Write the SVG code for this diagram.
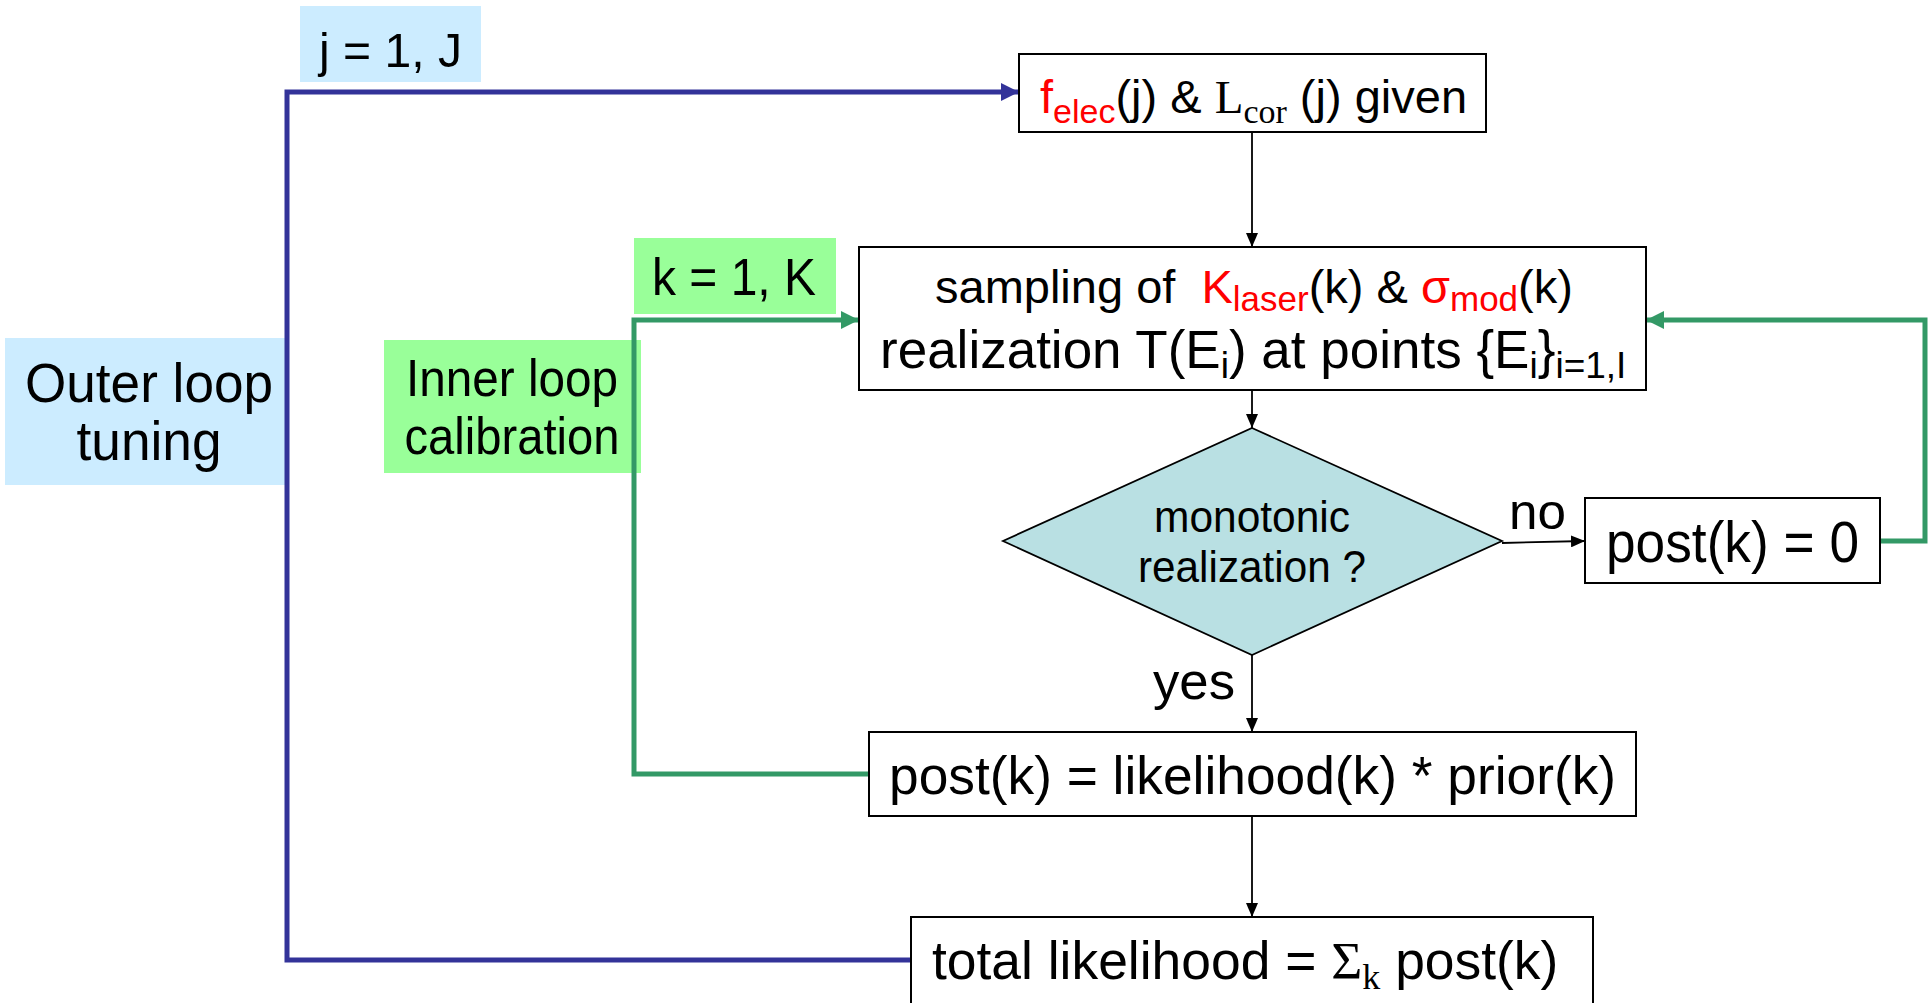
<svg xmlns="http://www.w3.org/2000/svg" width="1930" height="1003" viewBox="0 0 1930 1003">
<defs>
<style>
text{font-family:"Liberation Sans",Arial,sans-serif;fill:#000}
.box{fill:#fff;stroke:#000;stroke-width:2}
.red{fill:#f00}
.serif{font-family:"Liberation Serif","Times New Roman",serif}
.blue{fill:none;stroke:#333399;stroke-width:5}
.green{fill:none;stroke:#339966;stroke-width:5}
.blk{fill:none;stroke:#000;stroke-width:1.8}
</style>
<marker id="ab" markerUnits="userSpaceOnUse" markerWidth="14" markerHeight="12" refX="14" refY="6" orient="auto"><path d="M0,0 L14,6 L0,12 z" fill="#000"/></marker>
<marker id="abl" markerUnits="userSpaceOnUse" markerWidth="18" markerHeight="18" refX="18" refY="9" orient="auto"><path d="M0,0 L18,9 L0,18 z" fill="#333399"/></marker>
<marker id="agr" markerUnits="userSpaceOnUse" markerWidth="18" markerHeight="18" refX="18" refY="9" orient="auto"><path d="M0,0 L18,9 L0,18 z" fill="#339966"/></marker>
</defs>
<rect width="1930" height="1003" fill="#fff"/>
<g id="label-j">
<rect x="300" y="6" width="181" height="76" fill="#CCECFF"/>
<text x="319" y="67" font-size="49" textLength="143" lengthAdjust="spacingAndGlyphs">j = 1, J</text>
</g>
<g id="label-outer">
<rect x="5" y="338" width="283" height="147" fill="#CCECFF"/>
<text x="149" y="402" font-size="56" text-anchor="middle" textLength="248" lengthAdjust="spacingAndGlyphs">Outer loop</text>
<text x="149" y="460" font-size="56" text-anchor="middle" textLength="145" lengthAdjust="spacingAndGlyphs">tuning</text>
</g>
<g id="label-k">
<rect x="634" y="238" width="202" height="76" fill="#99FF99"/>
<text x="652" y="295" font-size="52" textLength="164" lengthAdjust="spacingAndGlyphs">k = 1, K</text>
</g>
<g id="label-inner">
<rect x="384" y="340" width="257" height="133" fill="#99FF99"/>
<text x="512" y="396" font-size="52" text-anchor="middle" textLength="212" lengthAdjust="spacingAndGlyphs">Inner loop</text>
<text x="512" y="454" font-size="52" text-anchor="middle" textLength="215" lengthAdjust="spacingAndGlyphs">calibration</text>
</g>
<g id="connectors">
<polyline class="blue" points="911,960 287,960 287,92 1019,92" marker-end="url(#abl)"/>
<polyline class="green" points="869,774 634,774 634,320 859,320" marker-end="url(#agr)"/>
<polyline class="green" points="1880,541 1925,541 1925,320 1646,320" marker-end="url(#agr)"/>
<line class="blk" x1="1252" y1="132" x2="1252" y2="247" marker-end="url(#ab)"/>
<line class="blk" x1="1252" y1="390" x2="1252" y2="428" marker-end="url(#ab)"/>
<line class="blk" x1="1252" y1="655" x2="1252" y2="732" marker-end="url(#ab)"/>
<line class="blk" x1="1252" y1="816" x2="1252" y2="917" marker-end="url(#ab)"/>
<line class="blk" x1="1502" y1="543" x2="1585" y2="541" marker-end="url(#ab)"/>
</g>
<g id="node-given">
<rect class="box" x="1019" y="54" width="467" height="78"/>
<text x="1040" y="113" font-size="47"><tspan class="red">f</tspan><tspan class="red" font-size="34" dy="10">elec</tspan><tspan dy="-10">(j) &amp; </tspan><tspan class="serif">L</tspan><tspan class="serif" font-size="34" dy="10">cor</tspan><tspan dy="-10"> (j) given</tspan></text>
</g>
<g id="node-sampling">
<rect class="box" x="859" y="247" width="787" height="143"/>
<text x="935" y="303" font-size="47" xml:space="preserve">sampling of  <tspan class="red">K</tspan><tspan class="red" font-size="35" dy="8">laser</tspan><tspan dy="-8">(k) &amp; </tspan><tspan class="red">σ</tspan><tspan class="red" font-size="35" dy="8">mod</tspan><tspan dy="-8">(k)</tspan></text>
<text x="880" y="368" font-size="53">realization T(E<tspan font-size="37" dy="10">i</tspan><tspan dy="-10">) at points {E</tspan><tspan font-size="37" dy="10">i</tspan><tspan dy="-10">}</tspan><tspan font-size="37" dy="10">i=1,I</tspan></text>
</g>
<g id="node-monotonic">
<polygon points="1252,428 1502,541 1252,655 1003,541" fill="#B9E0E3" stroke="#000" stroke-width="1.8"/>
<text x="1252" y="532" font-size="44" text-anchor="middle" textLength="196" lengthAdjust="spacingAndGlyphs">monotonic</text>
<text x="1252" y="582" font-size="44" text-anchor="middle" textLength="228" lengthAdjust="spacingAndGlyphs">realization ?</text>
</g>
<g id="label-no"><text x="1509" y="529" font-size="50" textLength="57" lengthAdjust="spacingAndGlyphs">no</text></g>
<g id="label-yes"><text x="1153" y="699" font-size="52" textLength="82" lengthAdjust="spacingAndGlyphs">yes</text></g>
<g id="node-post0">
<rect class="box" x="1585" y="498" width="295" height="85"/>
<text x="1606" y="562" font-size="57" textLength="253" lengthAdjust="spacingAndGlyphs">post(k) = 0</text>
</g>
<g id="node-post">
<rect class="box" x="869" y="732" width="767" height="84"/>
<text x="889" y="794" font-size="53.3">post(k) = likelihood(k) * prior(k)</text>
</g>
<g id="node-total">
<rect class="box" x="911" y="917" width="682" height="90"/>
<text x="932" y="979" font-size="53.4">total likelihood = <tspan class="serif">Σ</tspan><tspan class="serif" font-size="36" dy="10">k</tspan><tspan dy="-10"> post(k)</tspan></text>
</g>
</svg>
